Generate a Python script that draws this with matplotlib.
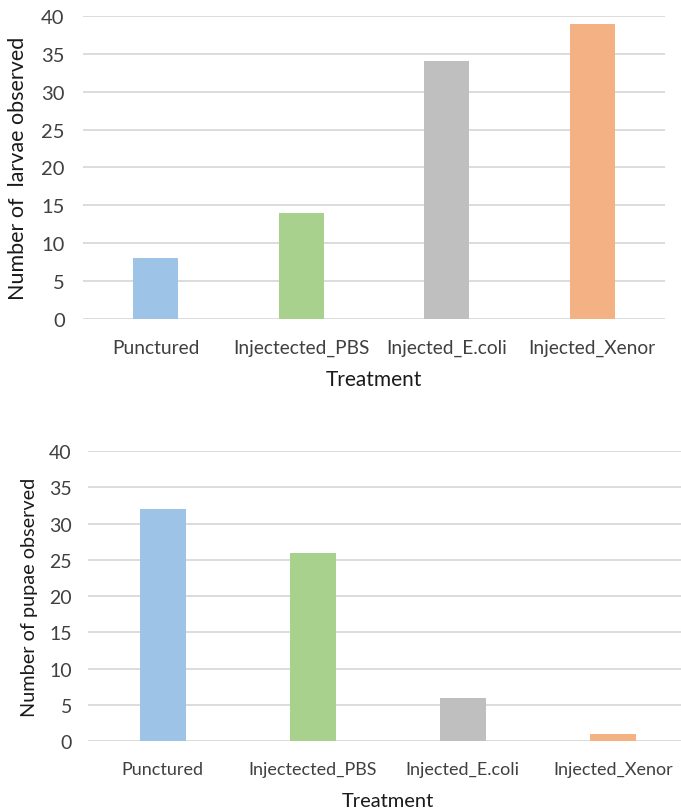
import matplotlib
matplotlib.use("Agg")
import matplotlib.pyplot as plt

categories = ["Punctured", "Injectected_PBS", "Injected_E.coli", "Injected_Xenor"]
larvae = [8, 14, 34, 39]
pupae = [32, 26, 6, 1]
colors = ["#9DC3E6", "#A9D18E", "#BFBFBF", "#F4B183"]
yticks = [0, 5, 10, 15, 20, 25, 30, 35, 40]

plt.rcParams['font.family'] = ['Lato', 'DejaVu Sans']

fig = plt.figure(figsize=(6.81, 8.12), dpi=100)

def style(ax, values, ylabel, ytick_fs, xtick_fs, ylab_fs, xlab_fs, ylab_x, xlab_y, ypad, xpad, width):
    x = range(len(categories))
    ax.bar(x, values, width=width, color=colors, zorder=3)
    ax.set_xlim(-0.5, len(categories) - 0.5)
    ax.set_ylim(0, 40)
    ax.set_yticks(yticks)
    ax.set_xticks(list(x))
    ax.set_xticklabels(categories, fontsize=xtick_fs, color="#404040")
    ax.tick_params(axis='y', labelsize=ytick_fs, labelcolor="#404040", length=0, pad=ypad)
    ax.tick_params(axis='x', length=0, pad=xpad)
    ax.grid(axis='y', color="#D9D9D9", linewidth=1.3, zorder=0)
    for s in ax.spines.values():
        s.set_visible(False)
    ax.set_ylabel(ylabel, fontsize=ylab_fs, color="#1a1a1a")
    ax.yaxis.set_label_coords(ylab_x, 0.5)
    ax.set_xlabel("Treatment", fontsize=xlab_fs, color="#1a1a1a")
    ax.xaxis.set_label_coords(0.5, xlab_y)

ax1 = fig.add_axes([0.1215, 0.606, 0.855, 0.373])
style(ax1, larvae, "Number of  larvae observed", 14.5, 13.8, 15.5, 15, -0.094, -0.165, 13, 14.5, 0.31)

ax2 = fig.add_axes([0.129, 0.0862, 0.881, 0.357])
style(ax2, pupae, "Number of pupae observed", 14, 13, 14.3, 14.5, -0.083, -0.176, 11.5, 14.5, 0.31)

fig.savefig("out.png", dpi=100)
